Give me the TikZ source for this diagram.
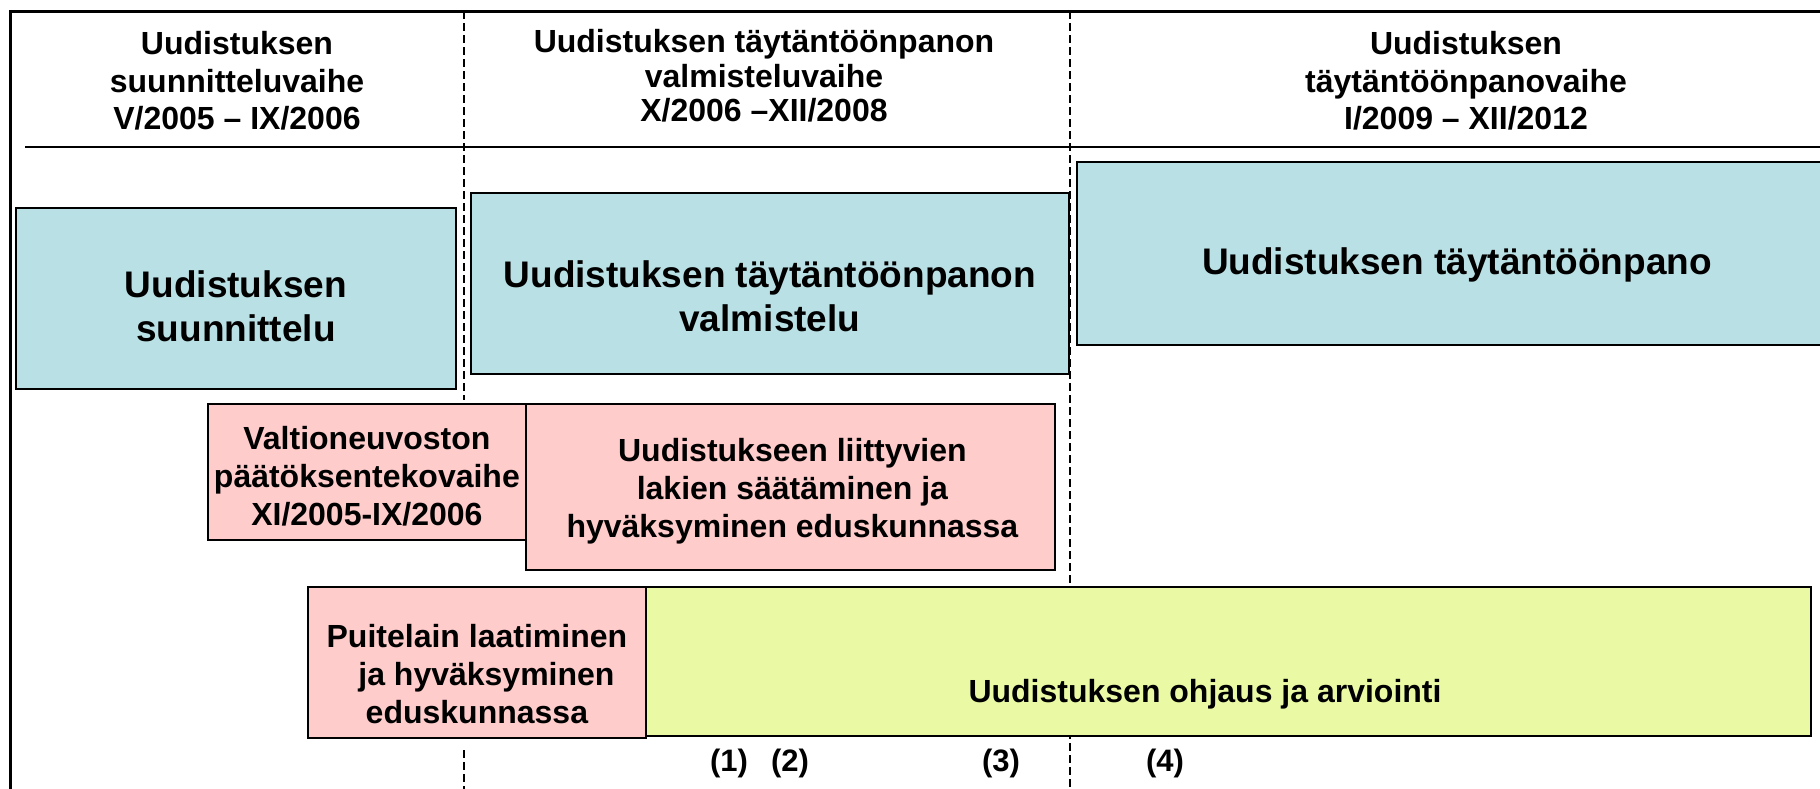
\documentclass[tikz,border=0pt]{standalone}
\usepackage{fontspec}
\setmainfont{Liberation Sans}
\usetikzlibrary{positioning}
\definecolor{phaseblue}{RGB}{185,224,228}
\definecolor{lawpink}{RGB}{255,204,204}
\definecolor{guideyellow}{RGB}{234,250,164}

\begin{document}
\begin{tikzpicture}[x=1pt,y=-1pt,
    every node/.style={align=center,inner sep=0pt},
    phasehead/.style={font=\bfseries\fontsize{32}{37.5}\selectfont},
    block/.style={draw,line width=1.8pt,anchor=north west},
    bluebox/.style={block,fill=phaseblue},
    pinkbox/.style={block,fill=lawpink},
    greenbox/.style={block,fill=guideyellow},
    bigtext/.style={font=\bfseries\fontsize{37}{44}\selectfont},
    smalltext/.style={font=\bfseries\fontsize{32}{38}\selectfont},
    divider/.style={line width=1.5pt,dash pattern=on 8pt off 4pt},
    marker/.style={font=\bfseries\fontsize{31}{36}\selectfont}
  ]
    \useasboundingbox (0,0) rectangle (1820,788);
    \clip (0,0) rectangle (1820,788);
    % frame and header rule
    \draw[line width=3pt] (10,800) -- (10,11) -- (1830,11);
    \draw[line width=2.5pt] (25,147) -- (1830,147);
    % phase dividers
    \coordinate (d1top) at (464,11);
    \coordinate (d1mid) at (464,400);
    \coordinate (d1low) at (464,750);
    \coordinate (d1end) at (464,790);
    \coordinate (d2top) at (1070,11);
    \coordinate (d2end) at (1070,790);
    \draw[divider] (d1top) -- (d1mid) (d1low) -- (d1end);
    \draw[divider] (d2top) -- (d2end);
    % phase headings
    \node[phasehead] (head1) at (237,81) {Uudistuksen\\suunnitteluvaihe\\V/2005 – IX/2006};
    \node[phasehead,font=\bfseries\fontsize{32}{34.5}\selectfont] (head2) at (764,76) {Uudistuksen täytäntöönpanon\\valmisteluvaihe\\X/2006 –XII/2008};
    \node[phasehead] (head3) at (1466,81) {Uudistuksen\\täytäntöönpanovaihe\\I/2009 – XII/2012};
    % work blocks
    \node[bluebox,minimum width=440pt,minimum height=181pt] (suunnittelu) at (15,207) {};
    \node[bluebox,minimum width=598pt,minimum height=181pt] (valmistelu) at (470,192) {};
    \node[bluebox,minimum width=770pt,minimum height=183pt] (toimeenpano) at (1076,161) {};
    \node[pinkbox,minimum width=318pt,minimum height=136pt] (paatos) at (207,403) {};
    \node[pinkbox,minimum width=529pt,minimum height=166pt] (lait) at (525,403) {};
    \node[pinkbox,minimum width=338pt,minimum height=151pt] (puitelaki) at (307,586) {};
    \node[greenbox,minimum width=1165pt,minimum height=149pt] (ohjaus) at (645,586) {};
    % block texts
    \node[bigtext] (suunnittelu-txt) at ([yshift=-8pt]suunnittelu.center) {Uudistuksen\\suunnittelu};
    \node[bigtext] (valmistelu-txt) at ([yshift=-13pt]valmistelu.center) {Uudistuksen täytäntöönpanon\\valmistelu};
    \node[bigtext] (toimeenpano-txt) at ([xshift=-5pt,yshift=-12pt]toimeenpano.center) {Uudistuksen täytäntöönpano};
    \node[smalltext] (paatos-txt) at ([yshift=-4pt]paatos.center) {Valtioneuvoston\\päätöksentekovaihe\\XI/2005-IX/2006};
    \node[smalltext] (lait-txt) at ([xshift=2pt,yshift=-4pt]lait.center) {Uudistukseen liittyvien\\lakien säätäminen ja\\hyväksyminen eduskunnassa};
    \node[smalltext] (puitelaki-txt) at ([yshift=-12pt]puitelaki.center) {Puitelain laatiminen\\\hspace*{0.6em}ja hyväksyminen\\eduskunnassa};
    \node[smalltext] (ohjaus-txt) at (1205,694) {Uudistuksen ohjaus ja arviointi};
    % reference marks
    \foreach \n/\x in {1/729,2/790,3/1001,4/1165}
      \node[marker] (mark\n) at (\x,763) {(\n)};
\end{tikzpicture}
\end{document}
